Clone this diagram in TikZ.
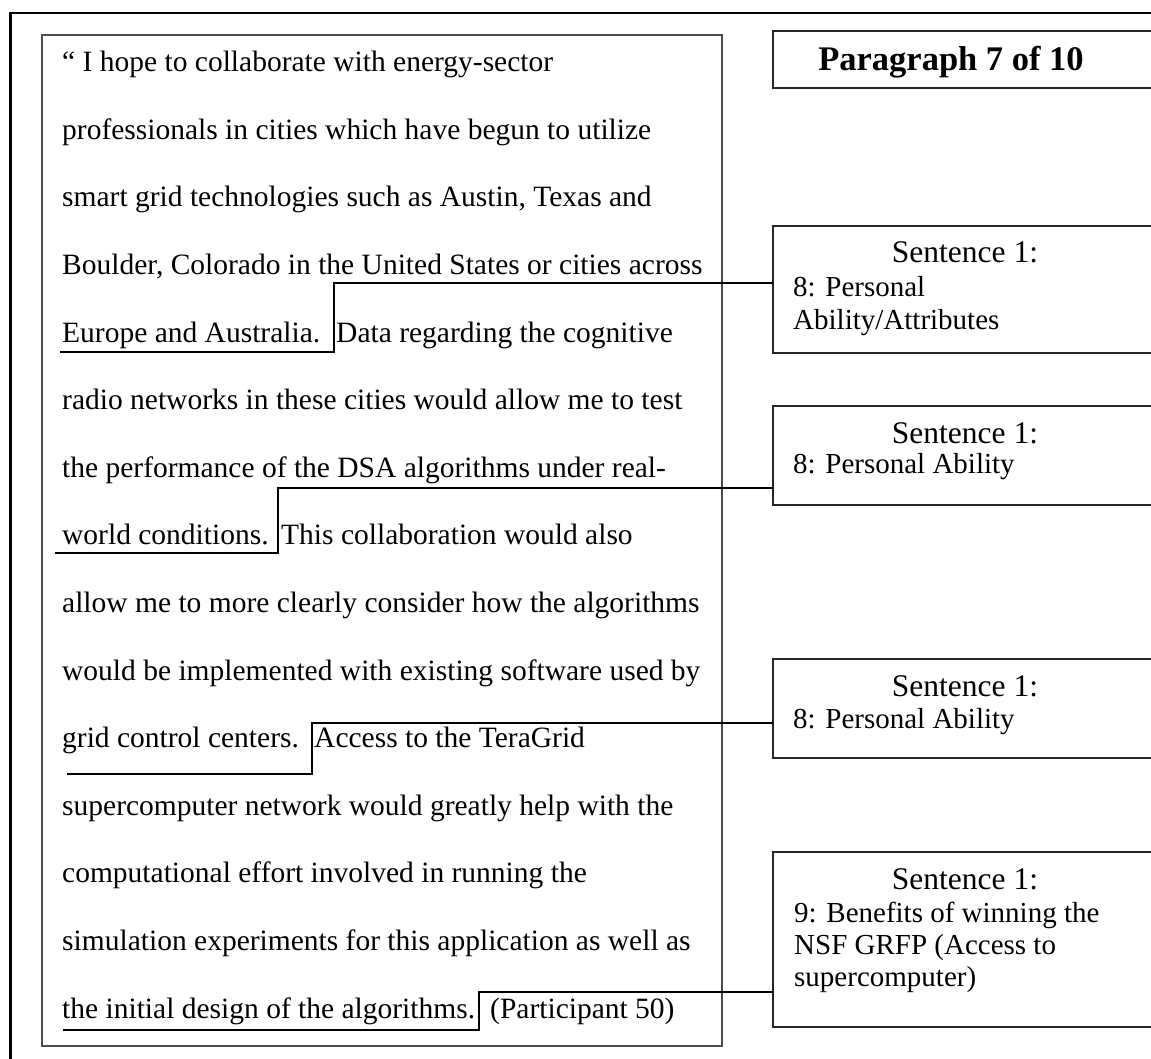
\documentclass[tikz,border=0pt]{standalone}
\usepackage{fontspec}
\setmainfont{Liberation Serif}
\begin{document}
\begin{tikzpicture}[x=1pt,y=-1pt,
  frame/.style={draw=black, line width=2.5pt, inner sep=0pt, outer sep=0pt, anchor=north west},
  qbox/.style={draw=black!70, line width=1.6pt, inner sep=0pt, outer sep=0pt, anchor=north west},
  cbox/.style={draw=black!85, line width=1.6pt, inner sep=0pt, outer sep=0pt, anchor=north west, minimum width=400pt},
  conn/.style={draw=black, line width=2pt},
  body/.style={font=\fontsize{29.5}{32}\selectfont, inner sep=0pt, anchor=base west},
  head/.style={font=\fontsize{31.5}{34}\selectfont, inner sep=0pt, anchor=base},
  small/.style={font=\fontsize{29}{32}\selectfont, inner sep=0pt, anchor=base west},
  ptitle/.style={font=\fontsize{34.5}{38}\selectfont\bfseries, inner sep=0pt, anchor=base}
]
\useasboundingbox (0,0) rectangle (1151,1059);
\clip (0,0) rectangle (1151,1059);

% outer frame (right and bottom edges lie outside the picture)
\node[frame, minimum width=1200pt, minimum height=1100pt] (outer) at (10.5,13) {};

% quotation box
\node[qbox, minimum width=680pt, minimum height=1011pt] (quote) at (42,35) {};

% right-hand boxes
\node[cbox, minimum height=57pt] (para) at (773,31) {};
\node[cbox, minimum height=127pt] (s1) at (773,226) {};
\node[cbox, minimum height=99pt] (s2) at (773,406) {};
\node[cbox, minimum height=99pt] (s3) at (773,659) {};
\node[cbox, minimum height=175pt] (s4) at (773,852) {};

% box texts
\node[ptitle] (pt) at (951,71) {Paragraph 7 of 10};
\node[head] (h1) at (965,263) {Sentence 1:};
\node[small] (b1a) at (793,297) {8: Personal};
\node[small] (b1b) at (793,329) {Ability/Attributes};
\node[head] (h2) at (965,443) {Sentence 1:};
\node[small] (b2a) at (793,473) {8: Personal Ability};
\node[head] (h3) at (965,696) {Sentence 1:};
\node[small] (b3a) at (793,728) {8: Personal Ability};
\node[head] (h4) at (965,889) {Sentence 1:};
\node[small] (b4a) at (794,922) {9: Benefits of winning the};
\node[small] (b4b) at (794,954) {NSF GRFP (Access to};
\node[small] (b4c) at (794,986) {supercomputer)};

% quotation text
\node[body] (l1) at (62,71.6) {“ I hope to collaborate with energy-sector};
\node[body] (l2) at (62,139.2) {professionals in cities which have begun to utilize};
\node[body] (l3) at (62,206.8) {smart grid technologies such as Austin, Texas and};
\node[body] (l4) at (62,274.4) {Boulder, Colorado in the United States or cities across};
\node[body] (l5) at (62,342) {Europe and Australia.};
\node[body] (l5b) at (336,342) {Data regarding the cognitive};
\node[body] (l6) at (62,409.6) {radio networks in these cities would allow me to test};
\node[body] (l7) at (62,477.2) {the performance of the DSA algorithms under real-};
\node[body] (l8) at (62,544.8) {world conditions.};
\node[body] (l8b) at (281,544.8) {This collaboration would also};
\node[body] (l9) at (62,612.4) {allow me to more clearly consider how the algorithms};
\node[body] (l10) at (62,680) {would be implemented with existing software used by};
\node[body] (l11) at (62,747.6) {grid control centers.};
\node[body] (l11b) at (314,747.6) {Access to the TeraGrid};
\node[body] (l12) at (62,815.2) {supercomputer network would greatly help with the};
\node[body] (l13) at (62,882.8) {computational effort involved in running the};
\node[body] (l14) at (62,950.4) {simulation experiments for this application as well as};
\node[body] (l15) at (62,1018) {the initial design of the algorithms.};
\node[body] (l15b) at (490,1018) {(Participant 50)};

% connectors
\coordinate (u1) at (60,352);
\coordinate (k1) at (334,352);
\coordinate (e1) at (334,283);
\draw[conn] (u1) -- (k1) -- (e1) -- (e1 -| s1.west);

\coordinate (u2) at (55,553);
\coordinate (k2) at (278,553);
\coordinate (e2) at (278,488);
\draw[conn] (u2) -- (k2) -- (e2) -- (e2 -| s2.west);

\coordinate (u3) at (67,774);
\coordinate (k3) at (312,774);
\coordinate (e3) at (312,722.5);
\draw[conn] (u3) -- (k3) -- (e3) -- (e3 -| s3.west);

\coordinate (u4) at (63,1030);
\coordinate (k4) at (479,1030);
\coordinate (e4) at (479,992);
\draw[conn] (u4) -- (k4) -- (e4) -- (e4 -| s4.west);
\end{tikzpicture}
\end{document}
